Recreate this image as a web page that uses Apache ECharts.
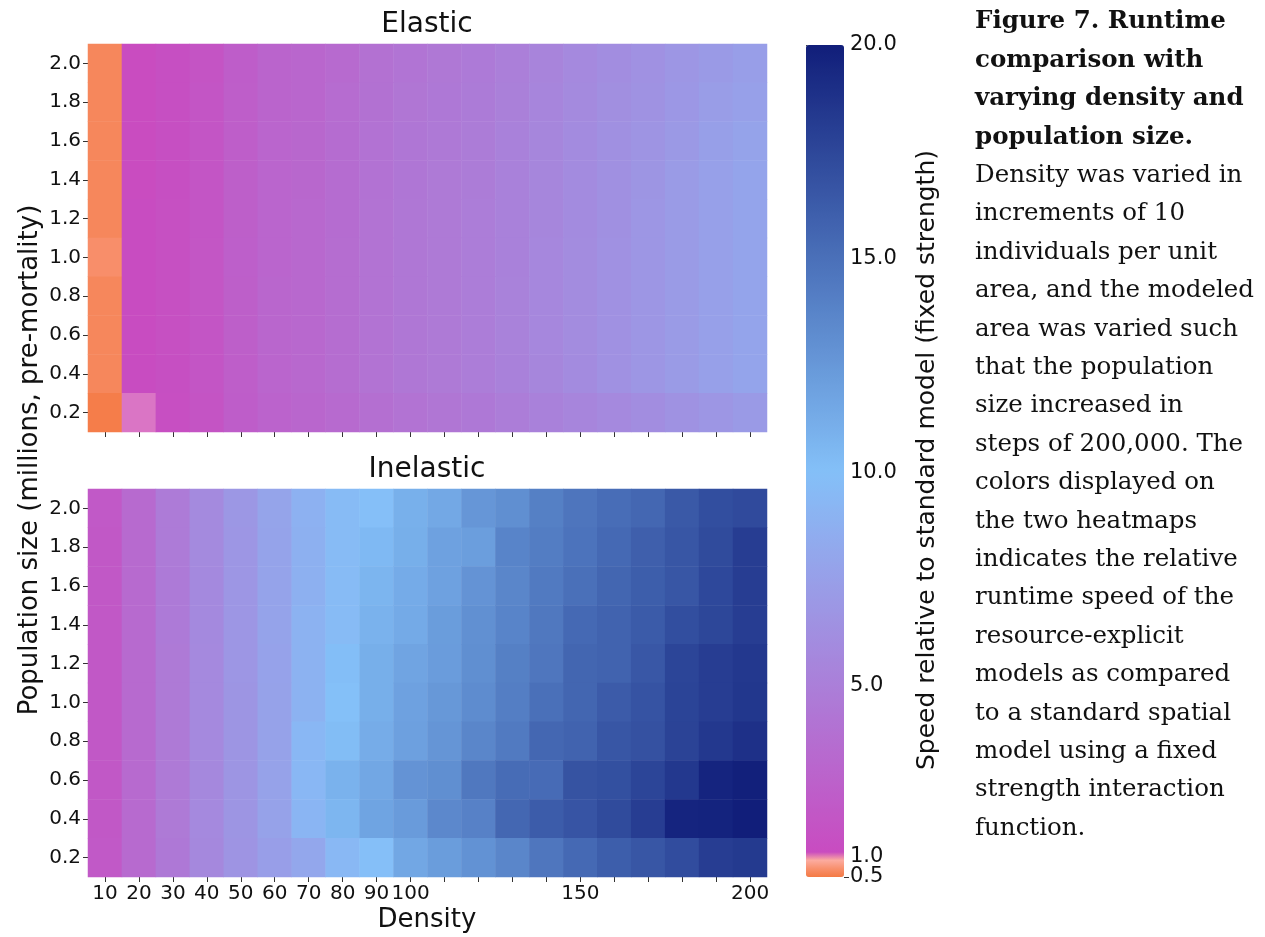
<!DOCTYPE html>
<html>
<head>
  <meta charset="utf-8">
  <title>Runtime comparison heatmaps</title>
  <script src="https://cdn.jsdelivr.net/npm/echarts@6/dist/echarts.min.js"></script>
  <style>
    html, body { margin: 0; padding: 0; background: #fff; }
    #chart { width: 1265px; height: 937px; }
  </style>
</head>
<body>
  <div id="chart"></div>
  <script>
    // data
    var densities = ['10', '20', '30', '40', '50', '60', '70', '80', '90', '100',
      '110', '120', '130', '140', '150', '160', '170', '180', '190', '200'];
    var popSizes = ['0.2', '0.4', '0.6', '0.8', '1.0', '1.2', '1.4', '1.6', '1.8', '2.0'];
    var xTickLabels = ['10', '20', '30', '40', '50', '60', '70', '80', '90', '100', '150', '200'];
    var cbarTicks = [1.0, 5.0, 10.0, 15.0, 20.0];
    var cbarLowTick = [0.5];

    // rows listed top (2.0) to bottom (0.2)
    var elasticRows = [
      [0.62, 1.12, 1.38, 1.75, 2.45, 2.95, 3.10, 3.45, 3.95, 4.20, 4.45, 4.65, 5.00, 5.40, 5.80, 6.10, 6.40, 6.80, 7.10, 7.40],
      [0.62, 1.12, 1.40, 1.80, 2.50, 3.00, 3.15, 3.55, 4.00, 4.30, 4.50, 4.75, 5.10, 5.50, 5.90, 6.20, 6.50, 6.90, 7.30, 7.60],
      [0.62, 1.13, 1.42, 1.85, 2.50, 3.05, 3.20, 3.60, 4.05, 4.35, 4.55, 4.80, 5.15, 5.55, 5.95, 6.30, 6.60, 7.00, 7.50, 7.80],
      [0.62, 1.13, 1.42, 1.85, 2.55, 3.05, 3.20, 3.60, 4.05, 4.35, 4.60, 4.80, 5.20, 5.60, 6.00, 6.30, 6.70, 7.20, 7.60, 7.90],
      [0.62, 1.14, 1.43, 1.85, 2.55, 3.05, 3.25, 3.60, 4.10, 4.40, 4.60, 4.85, 5.20, 5.60, 6.00, 6.35, 6.75, 7.20, 7.60, 7.90],
      [0.69, 1.14, 1.43, 1.90, 2.60, 3.05, 3.25, 3.65, 4.10, 4.40, 4.60, 4.85, 5.20, 5.65, 6.05, 6.40, 6.75, 7.20, 7.60, 7.90],
      [0.62, 1.14, 1.43, 1.90, 2.55, 3.10, 3.25, 3.65, 4.10, 4.40, 4.60, 4.85, 5.25, 5.65, 6.05, 6.40, 6.80, 7.20, 7.60, 7.90],
      [0.62, 1.14, 1.43, 1.85, 2.55, 3.10, 3.30, 3.65, 4.10, 4.40, 4.60, 4.85, 5.25, 5.65, 6.05, 6.40, 6.80, 7.20, 7.60, 7.90],
      [0.62, 1.14, 1.42, 1.85, 2.50, 3.05, 3.30, 3.70, 4.10, 4.40, 4.60, 4.85, 5.20, 5.60, 6.00, 6.40, 6.80, 7.20, 7.60, 7.90],
      [0.53, 1.04, 1.35, 1.75, 2.40, 2.90, 3.10, 3.40, 3.80, 4.10, 4.30, 4.50, 4.85, 5.20, 5.50, 5.80, 6.10, 6.45, 6.80, 7.10]
    ];
    var inelasticRows = [
      [2.15, 3.45, 4.70, 5.90, 6.85, 7.85, 8.85, 9.60, 9.90, 11.0, 11.5, 12.6, 13.1, 14.0, 14.7, 15.2, 15.5, 16.4, 17.1, 17.3],
      [2.10, 3.45, 4.70, 5.90, 6.80, 7.80, 8.80, 9.60, 10.4, 11.1, 11.9, 12.1, 13.75, 14.2, 14.8, 15.4, 16.0, 16.6, 17.25, 18.1],
      [2.10, 3.40, 4.65, 5.85, 6.80, 7.80, 8.80, 9.60, 10.7, 11.3, 11.9, 12.8, 13.6, 14.4, 15.0, 15.6, 16.1, 16.6, 17.4, 18.1],
      [2.10, 3.40, 4.65, 5.85, 6.75, 7.80, 8.90, 9.60, 10.9, 11.4, 12.2, 13.0, 13.75, 14.5, 15.4, 15.8, 16.3, 17.1, 17.5, 18.1],
      [2.10, 3.40, 4.60, 5.80, 6.75, 7.75, 8.90, 10.1, 11.1, 11.7, 12.25, 13.1, 14.0, 14.6, 15.6, 15.8, 16.5, 17.6, 18.1, 18.4],
      [2.10, 3.40, 4.60, 5.80, 6.70, 7.70, 8.95, 10.0, 11.1, 11.9, 12.5, 13.3, 14.1, 15.0, 15.6, 16.25, 16.75, 17.7, 18.1, 18.5],
      [2.10, 3.40, 4.60, 5.80, 6.70, 7.70, 9.30, 10.2, 11.25, 12.0, 12.7, 13.6, 14.4, 15.5, 15.75, 16.6, 16.9, 17.75, 18.4, 18.9],
      [2.10, 3.40, 4.60, 5.75, 6.70, 7.70, 9.30, 10.9, 11.6, 12.8, 13.1, 14.5, 15.25, 15.3, 16.8, 17.0, 17.6, 18.4, 19.6, 19.9],
      [2.10, 3.40, 4.60, 5.80, 6.70, 7.70, 9.20, 10.6, 11.75, 12.3, 13.5, 13.9, 15.5, 16.2, 16.7, 17.25, 18.1, 19.6, 19.7, 20.0],
      [2.15, 3.45, 4.50, 5.70, 6.60, 7.40, 8.10, 9.40, 9.90, 11.6, 12.2, 12.9, 13.6, 14.6, 15.4, 16.1, 16.6, 17.2, 18.1, 18.3]
    ];

    var captionBold = ['Figure 7. Runtime', 'comparison with', 'varying density and', 'population size.'];
    var captionBody = ['Density was varied in', 'increments of 10', 'individuals per unit',
      'area, and the modeled', 'area was varied such', 'that the population', 'size increased in',
      'steps of 200,000. The', 'colors displayed on', 'the two heatmaps', 'indicates the relative',
      'runtime speed of the', 'resource-explicit', 'models as compared', 'to a standard spatial',
      'model using a fixed', 'strength interaction', 'function.'];

    // colour scale: 0.5..1 squeezed, 1..20 linear
    function toT(v) { return v >= 1 ? v : 1 - (1 - v) * 0.95; }
    function fromT(t) { return t >= 1 ? t : 1 - (1 - t) / 0.95; }
    var tMin = toT(0.5), tMax = 20;

    var anchors = [[0.5, '#f47a44'], [0.8, '#fa9a80'], [0.97, '#fdb4b0'], [1.0, '#fcc8cf'],
      [1.06, '#c94bc0'], [10, '#84c0f8'], [15, '#4a70b9'], [20, '#111e7a']];
    function hex(c) { return [parseInt(c.substr(1, 2), 16), parseInt(c.substr(3, 2), 16), parseInt(c.substr(5, 2), 16)]; }
    function colorAt(v) {
      for (var i = 0; i < anchors.length - 1; i++) {
        var a = anchors[i], b = anchors[i + 1];
        if (v <= b[0] || i === anchors.length - 2) {
          var f = Math.max(0, Math.min(1, (v - a[0]) / (b[0] - a[0])));
          var ca = hex(a[1]), cb = hex(b[1]);
          return 'rgb(' + ca.map(function (x, k) { return Math.round(x + (cb[k] - x) * f); }).join(',') + ')';
        }
      }
    }
    var stops = [];
    for (var i = 0; i <= 400; i++) stops.push(colorAt(fromT(tMin + (tMax - tMin) * i / 400)));

    function cells(rows) {
      var out = [];
      rows.forEach(function (row, r) {
        row.forEach(function (v, c) { out.push([c, popSizes.length - 1 - r, toT(v)]); });
      });
      return out;
    }

    var sans = 'DejaVu Sans';
    var serif = 'DejaVu Serif';
    var tick = { show: true, alignWithLabel: true, length: 5, lineStyle: { color: '#333', width: 1 } };

    function xAxisFor(gi, showLabels) {
      return {
        type: 'category', gridIndex: gi, data: densities, position: 'bottom',
        axisLine: { show: false }, axisTick: tick, splitLine: { show: false },
        axisLabel: {
          show: showLabels, interval: 0, margin: 7, fontSize: 20, fontFamily: sans, color: '#111',
          formatter: function (v) { return xTickLabels.indexOf(v) >= 0 ? v : ''; }
        }
      };
    }
    function yAxisFor(gi) {
      return {
        type: 'category', gridIndex: gi, data: popSizes,
        axisLine: { show: false }, axisTick: tick, splitLine: { show: false },
        axisLabel: { interval: 0, margin: 7, fontSize: 20, fontFamily: sans, color: '#111' }
      };
    }
    function cbarAxis(values) {
      var ts = values.map(toT);
      return {
        type: 'value', gridIndex: 2, min: tMin, max: tMax, position: 'right', offset: 0,
        axisLine: { show: false }, splitLine: { show: false },
        axisTick: { show: true, length: 5, lineStyle: { color: '#333' }, customValues: ts },
        axisLabel: {
          show: true, margin: 6, fontSize: 21, fontFamily: sans, color: '#111',
          showMinLabel: true, showMaxLabel: true, hideOverlap: false,
          customValues: ts,
          formatter: function (t) { return fromT(t).toFixed(1); }
        }
      };
    }

    var chart = echarts.init(document.getElementById('chart'));
    var option = {
      animation: false,
      backgroundColor: '#fff',
      grid: [
        { left: 88, top: 44, width: 679, height: 388 },
        { left: 88, top: 489, width: 679, height: 388 },
        { left: 806, top: 45, width: 38, height: 832 }
      ],
      xAxis: [
        xAxisFor(0, false),
        xAxisFor(1, true),
        { type: 'value', gridIndex: 2, min: 0, max: 1, show: false }
      ],
      yAxis: [
        yAxisFor(0),
        yAxisFor(1),
        cbarAxis(cbarTicks),
        cbarAxis(cbarLowTick)
      ],
      visualMap: {
        type: 'continuous', min: tMin, max: tMax, calculable: false, hoverLink: false,
        left: 806, top: 45, padding: 0, itemWidth: 38, itemHeight: 832,
        inRange: { color: stops }, seriesIndex: [0, 1]
      },
      series: [
        { type: 'heatmap', xAxisIndex: 0, yAxisIndex: 0, data: cells(elasticRows), emphasis: { disabled: true }, itemStyle: { borderWidth: 0 } },
        { type: 'heatmap', xAxisIndex: 1, yAxisIndex: 1, data: cells(inelasticRows), emphasis: { disabled: true }, itemStyle: { borderWidth: 0 } }
      ],
      graphic: [
        { type: 'text', x: 427, y: 25, style: { text: 'Elastic', font: '28px ' + sans, fill: '#111', align: 'center', verticalAlign: 'middle' } },
        { type: 'text', x: 427, y: 470, style: { text: 'Inelastic', font: '28px ' + sans, fill: '#111', align: 'center', verticalAlign: 'middle' } },
        { type: 'text', x: 427, y: 920, style: { text: 'Density', font: '26px ' + sans, fill: '#111', align: 'center', verticalAlign: 'middle' } },
        { type: 'text', x: 30, y: 460, rotation: Math.PI / 2, style: { text: 'Population size (millions, pre-mortality)', font: '26px ' + sans, fill: '#111', align: 'center', verticalAlign: 'middle' } },
        { type: 'text', x: 927, y: 460, rotation: Math.PI / 2, style: { text: 'Speed relative to standard model (fixed strength)', font: '25px ' + sans, fill: '#111', align: 'center', verticalAlign: 'middle' } },
        { type: 'text', x: 975, y: 2.8, style: { text: captionBold.join('\n'), font: 'bold 24.5px ' + serif, fill: '#111', lineHeight: 38.4, align: 'left', verticalAlign: 'top' } },
        { type: 'text', x: 975, y: 156.4, style: { text: captionBody.join('\n'), font: '24.5px ' + serif, fill: '#111', lineHeight: 38.4, align: 'left', verticalAlign: 'top' } }
      ]
    };
    chart.setOption(option);
  </script>
</body>
</html>
